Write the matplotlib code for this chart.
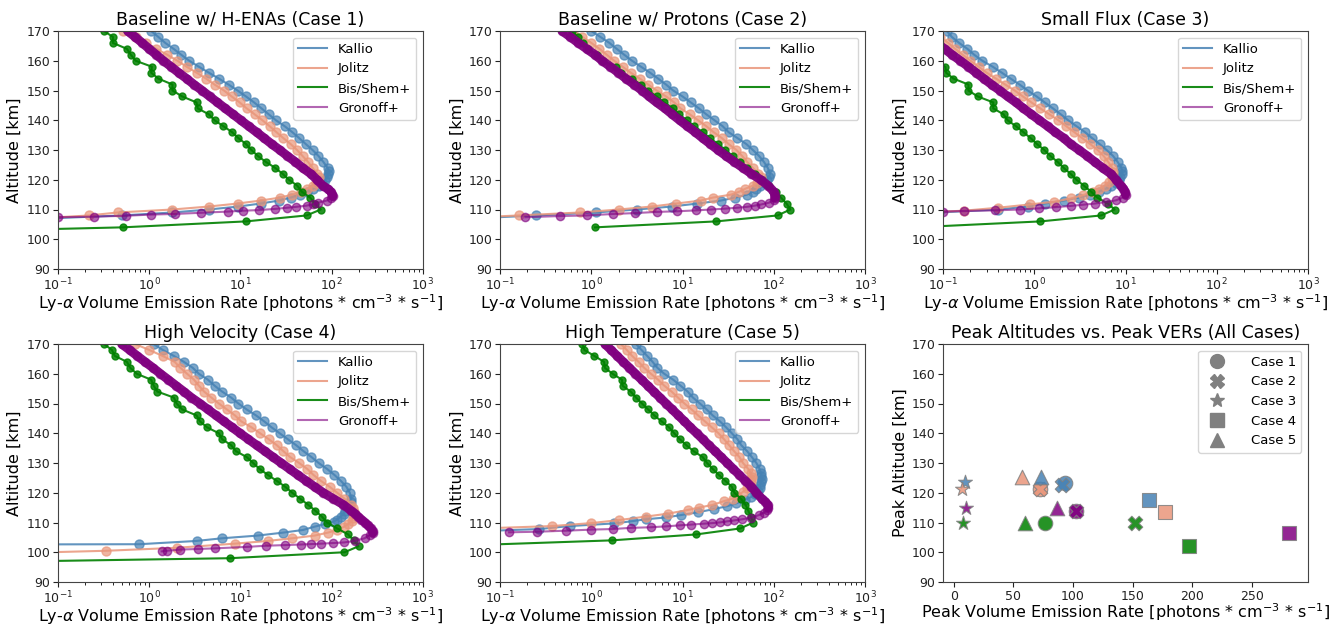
import numpy as np
import matplotlib
matplotlib.use("Agg")
import matplotlib.pyplot as plt
from matplotlib.lines import Line2D

# ---------------- data ----------------
titles = ["Baseline w/ H-ENAs (Case 1)", "Baseline w/ Protons (Case 2)", "Small Flux (Case 3)",
          "High Velocity (Case 4)", "High Temperature (Case 5)"]
models = ["Kallio", "Jolitz", "Bis/Shem+", "Gronoff+"]
model_colors = ["steelblue", "darksalmon", "green", "purple"]

bis_alt_grid = [96, 98, 100, 102, 104, 106, 108, 110, 112, 114, 116, 118, 120, 122, 124, 126, 128, 130,
                132, 134, 136, 138, 140, 142, 144, 146, 148, 150, 152, 154, 156, 158, 160, 162, 164,
                166, 168, 170]

# Case 1
k1_alt = [107, 108, 109, 110, 111, 112, 113, 114, 115, 116, 117, 118, 119, 120, 121, 122, 123, 124, 126, 128,
          130, 132, 134, 136, 138, 140, 142, 144, 146, 148, 150, 152, 154, 156, 158, 160, 162, 164, 166, 168, 170]
k1_ver = [0.08, 0.5, 1.8, 4.5, 9.5, 16.6, 26.3, 35.5, 45, 54, 63, 72, 79, 85, 89, 92, 93, 90, 81, 71.6,
          61.7, 52, 44, 37, 30.5, 24.5, 20.4, 17, 14.1, 11.5, 9.3, 7.4, 5.8, 4.5, 3.5, 2.75, 2.25, 1.85, 1.5, 1.26, 1.05]
j1_alt = [107, 108, 109, 110, 111, 112, 113, 114, 115, 116, 117, 118, 119, 120, 121, 122, 124, 126, 128, 130,
          132, 134, 136, 138, 140, 142, 144, 146, 148, 150, 152, 154, 156, 158, 160, 162, 164, 166, 168, 170]
j1_ver = [0.06, 0.22, 0.45, 1.8, 4.5, 9.3, 16.6, 27, 37, 46, 54, 62, 68, 71, 72, 69, 61.7, 55, 47.9, 41.7,
          35.5, 29.5, 24.8, 20.9, 17.4, 14.3, 11.7, 9.8, 8.0, 6.6, 5.2, 4.2, 3.3, 2.57, 2.04, 1.58, 1.2, 0.93,
          0.71, 0.52]
b1_alt = bis_alt_grid[3:]
b1_ver = [0.001, 0.51, 11.5, 53, 76, 66, 58, 47, 42, 34, 29, 24, 19, 15.5, 13.2, 11.5, 9.5, 8.1, 6.5, 5.2,
          4.5, 3.4, 3.3, 2.3, 1.8, 1.8, 1.26, 1.05, 1.07, 0.71, 0.63, 0.57, 0.40, 0.40, 0.32]
g1_alt = [107.4, 107.6, 107.9, 108.3, 108.5, 108.9, 109.3, 109.6, 109.8, 110.2, 110.6, 110.9, 111.3, 111.7,
          112.3, 113.0, 113.8, 114.5, 115, 116, 117, 118, 120, 122, 124, 126, 128, 130, 132, 134, 136, 138,
          140, 142, 144, 146, 148, 150, 152, 154, 156, 158, 160, 162, 164, 166, 168, 170]
g1_ver = [0.1, 0.25, 0.56, 1.06, 1.9, 3.7, 7.3, 10.7, 16, 24, 32.5, 41, 53, 62, 71, 88, 98, 102.7, 102, 98,
          90, 80, 69, 59, 48, 40, 32.7, 27, 22, 18.2, 15, 12.3, 10.1, 8.3, 6.8, 5.6, 4.6, 3.8, 3.1, 2.57, 2.1,
          1.74, 1.43, 1.2, 1.0, 0.84, 0.70, 0.58]

# Case 2
k2_alt = [107, 108, 109, 110, 111, 112, 113, 114, 115, 116, 117, 118, 119, 120, 121, 122, 124, 126, 128, 130,
          132, 134, 136, 138, 140, 142, 144, 146, 148, 150, 152, 154, 156, 158, 160, 162, 164, 166, 168, 170]
k2_ver = [0.05, 0.25, 1.12, 3.2, 7.6, 14.5, 26.3, 38, 51, 59, 64.5, 71, 78, 85, 89, 91, 86, 78, 69, 59,
          50, 40, 32, 27.5, 22.4, 18.2, 15.1, 12.3, 10, 7.9, 6.6, 5.4, 4.4, 3.5, 2.8, 2.3, 1.9, 1.58, 1.26, 1.0]
j2_alt = [107, 108, 109, 110, 111, 112, 113, 114, 115, 116, 117, 118, 119, 120, 121, 122, 124, 126, 128, 130,
          132, 134, 136, 138, 140, 142, 144, 146, 148, 150, 152, 154, 156, 158, 160, 162, 164, 166, 168, 170]
j2_ver = [0.03, 0.16, 0.76, 2.0, 4.6, 8.5, 15.8, 21.4, 34, 42, 49, 59, 66, 71, 72, 68, 59, 51, 45, 39,
          32, 27, 21.9, 18.2, 14.8, 12, 9.5, 8.1, 6.6, 5.2, 4.2, 3.4, 2.7, 2.2, 1.78, 1.48, 1.23, 1.0, 0.8, 0.63]
b2_alt = bis_alt_grid[4:]
b2_ver = [1.1, 23.4, 110, 152, 138, 120, 105, 89, 74, 62, 51, 43, 35.5, 29.5, 24.5, 20, 16.6, 13.5, 11.2,
          9.1, 7.9, 6.3, 5.2, 4.2, 3.5, 2.8, 2.1, 1.85, 1.35, 1.17, 0.93, 0.81, 0.71, 0.61]
g2_alt = [107.4, 107.8, 108.0, 108.5, 108.8, 109.2, 109.4, 109.7, 110.0, 110.3, 110.6, 110.9, 111.3, 111.7,
          112.3, 113.2, 114.0, 115, 116, 118, 120, 122, 124, 126, 128, 130, 132, 134, 136, 138, 140, 142,
          144, 146, 148, 150, 152, 154, 156, 158, 160, 162, 164, 166, 168, 170]
g2_ver = [0.19, 0.45, 0.89, 1.74, 3.05, 5.3, 8.8, 13.9, 20.7, 29.5, 40, 51, 62, 73, 89, 100, 102.7, 102, 100,
          87, 72, 57, 46, 37, 30, 24.5, 20.2, 16.6, 13.8, 11.3, 9.3, 7.7, 6.4, 5.2, 4.3, 3.6, 2.95, 2.4, 1.98,
          1.62, 1.32, 1.1, 0.89, 0.72, 0.59, 0.48]

# Case 3
k3_alt = [108, 109, 110, 111, 112, 113, 114, 115, 116, 117, 118, 119, 120, 121, 122, 123, 124, 126, 128, 130,
          132, 134, 136, 138, 140, 142, 144, 146, 148, 150, 152, 154, 156, 158, 160, 162, 164, 166, 168, 170]
k3_ver = [0.02, 0.09, 0.4, 0.85, 1.3, 2.1, 3.1, 4.1, 5.1, 6.1, 7.0, 7.8, 8.4, 8.8, 9.1, 9.2, 9.0, 8.2, 7.3, 6.2,
          5.2, 4.3, 3.6, 2.9, 2.35, 1.95, 1.6, 1.3, 1.06, 0.85, 0.69, 0.55, 0.44, 0.35, 0.27, 0.22, 0.185,
          0.15, 0.125, 0.11]
j3_alt = [108, 108.8, 109.6, 110.6, 111.7, 112.6, 113.7, 114.8, 116, 117, 118, 119.3, 120.5, 121.4, 122.5, 124,
          126, 128, 130, 132, 134, 136, 138, 140, 142, 144, 146, 148, 150, 152, 154, 156, 158, 160, 162, 164,
          166, 168, 170]
j3_ver = [0.01, 0.04, 0.17, 0.40, 0.89, 1.66, 2.5, 3.4, 4.4, 5.1, 5.9, 6.6, 7.1, 7.3, 7.2, 7.15, 6.45, 5.75,
          4.95, 4.1, 3.35, 2.75, 2.24, 1.84, 1.46, 1.16, 0.93, 0.75, 0.61, 0.48, 0.38, 0.30, 0.245, 0.20,
          0.164, 0.136, 0.114, 0.093, 0.075]
b3_alt = bis_alt_grid[4:]
b3_ver = [0.05, 1.17, 5.4, 7.6, 6.4, 4.9, 4.2, 3.5, 2.9, 2.5, 2.1, 1.8, 1.5, 1.29, 1.07, 0.91, 0.76, 0.63,
          0.51, 0.46, 0.355, 0.355, 0.24, 0.19, 0.19, 0.13, 0.108, 0.106, 0.074, 0.063, 0.057, 0.04, 0.04, 0.032]
g3_alt = [109.3, 109.5, 109.7, 110.0, 110.4, 110.8, 111.2, 111.6, 112.0, 112.5, 113.1, 114.0, 115.0, 116, 117,
          118, 120, 122, 124, 126, 128, 130, 132, 134, 136, 138, 140, 142, 144, 146, 148, 150, 152, 154, 156,
          158, 160, 162, 164, 166, 168, 170]
g3_ver = [0.1, 0.17, 0.37, 0.69, 1.14, 1.74, 2.5, 3.4, 4.6, 6.1, 7.9, 9.3, 10, 9.9, 9.5, 8.9, 7.9, 6.9, 5.6,
          4.6, 3.8, 3.1, 2.5, 2.1, 1.7, 1.4, 1.14, 0.93, 0.76, 0.63, 0.51, 0.42, 0.34, 0.28, 0.23, 0.19, 0.155,
          0.126, 0.104, 0.085, 0.07, 0.057]

# Case 4
k4_alt = [102.5, 102.7, 103.8, 104.7, 105.6, 106.6, 107.5, 108.6, 109.5, 110.3, 111, 112, 113, 114, 115, 116,
          117, 118, 120, 122, 124, 126, 128, 130, 132, 134, 136, 138, 140, 142, 144, 146, 148, 150, 152, 154,
          156, 158, 160, 162, 164, 166, 168, 170]
k4_ver = [0.0001, 0.78, 3.3, 6.3, 15.4, 29.4, 48.6, 65, 85, 105, 115, 126, 135, 141, 148, 155, 162, 164, 158,
          145, 126, 107, 89, 72, 60, 49, 40.7, 33, 26.9, 21.9, 18.2, 14.8, 11.7, 9.5, 7.9, 6.3, 5.2, 4.4, 3.5,
          3.0, 2.4, 1.86, 1.41, 1.12]
j4_alt = [99.5, 100.5, 101.5, 102.9, 103.8, 104.7, 105.6, 106.6, 107.5, 108.5, 109.5, 110.5, 111.5, 112.5,
          113.6, 115, 116, 118, 120, 122, 124, 126, 128, 130, 132, 134, 136, 138, 140, 142, 144, 146, 148, 150,
          152, 154, 156, 158, 160, 162, 164, 166, 168, 170]
j4_ver = [0.02, 0.34, 2.0, 8.8, 20, 37, 65, 91, 115, 135, 152, 165, 172, 176, 177, 172, 162, 138, 115, 95, 76,
          63, 54, 44, 35, 29.5, 25, 20.4, 16.4, 13.2, 10.2, 8.7, 7.1, 5.8, 4.8, 4.0, 3.5, 3.1, 2.6, 2.2, 1.9,
          1.4, 1.0, 0.7]
b4_alt = bis_alt_grid
b4_ver = [0.0005, 7.7, 138, 197, 174, 151, 115, 89, 78, 66, 55, 45, 37, 31, 25, 20, 16.2, 13.8, 11.7, 8.9,
          7.9, 6.3, 5.8, 4.3, 3.6, 3.3, 2.3, 2.0, 1.86, 1.23, 1.12, 1.05, 0.73, 0.62, 0.57, 0.42, 0.39, 0.32]
g4_alt = [100.3, 100.5, 100.9, 101.1, 101.3, 101.8, 102.2, 102.4, 102.6, 102.75, 102.9, 103.1, 103.3, 103.8,
          104.7, 105.8, 106.5, 107.2, 108, 109, 110, 111, 112, 113, 114, 116, 118, 120, 122, 124, 126, 128,
          130, 132, 134, 136, 138, 140, 142, 144, 146, 148, 150, 152, 154, 156, 158, 160, 162, 164, 166, 168, 170]
g4_ver = [1.37, 1.55, 2.2, 3.4, 5.2, 11.7, 19.3, 30.6, 45.6, 60, 77, 104, 137, 178, 229, 262, 281, 281, 268,
          250, 232, 212, 195, 180, 163, 134, 104, 81, 65, 52.5, 42.5, 34.5, 28, 22.7, 18.5, 15, 12.2, 9.9, 8.1,
          6.6, 5.4, 4.4, 3.6, 2.9, 2.4, 1.97, 1.62, 1.33, 1.1, 0.9, 0.74, 0.61, 0.5]

# Case 5
k5_alt = [107, 107.8, 108.8, 109.7, 110.5, 111.1, 111.7, 112.5, 113.4, 114.5, 115.5, 116.4, 117.5, 118.5, 119.5,
          120.5, 121.5, 122.5, 123.5, 124.5, 125.5, 126.5, 128, 130, 132, 134, 136, 138, 140, 142, 144, 146,
          148, 150, 152, 154, 156, 158, 160, 162, 164, 166, 168, 170]
k5_ver = [0.05, 0.27, 0.58, 1.79, 2.9, 4.0, 6.6, 9.6, 14.6, 22, 31, 38.5, 48, 56, 63, 68, 70, 71, 72.5, 73.5,
          73, 72.5, 70, 64.5, 57.5, 51, 44, 40, 34.7, 30, 25.7, 21.4, 18.4, 15.5, 13, 11.4, 9.5, 7.9, 6.3, 5.3,
          4.7, 4.1, 3.55, 3.1]
j5_alt = [107.8, 108.8, 109.8, 110.8, 112, 113, 114.2, 115, 115.9, 117.2, 118, 119, 120.3, 121.5, 122.5, 123.5,
          124.5, 125.3, 126.5, 128, 130, 132, 134, 136, 138, 140, 142, 144, 146, 148, 150, 152, 154, 156, 158,
          160, 162, 164, 166, 168, 170]
j5_ver = [0.04, 0.37, 1.0, 2.0, 4.0, 7, 11.4, 15, 21.3, 28.6, 35.5, 40, 46, 51, 54, 56, 57, 57.2, 56, 52.5, 46,
          42, 36.7, 32.4, 28.5, 24.8, 20.9, 17.6, 14.8, 12.6, 10.5, 8.9, 7.6, 6.3, 5.4, 4.5, 3.8, 3.3, 2.8,
          2.45, 2.1]
b5_alt = bis_alt_grid[3:]
b5_ver = [0.022, 1.69, 14.2, 42.9, 59.7, 56, 52.5, 49, 43.6, 37, 34.7, 29.5, 25, 21.4, 18.6, 16.6, 13.2, 11,
          9.3, 8.1, 7.1, 5.9, 4.9, 4.2, 3.6, 3.1, 2.7, 2.2, 2.17, 1.71, 1.41, 1.38, 1.08, 0.84, 0.8]
g5_alt = [106.7, 106.9, 107.25, 107.6, 107.8, 108.2, 108.4, 108.7, 109.05, 109.3, 109.6, 109.8, 110.05, 110.4,
          110.7, 111.1, 111.6, 112.5, 113.3, 114.2, 115, 116, 117, 118, 120, 122, 124, 126, 128, 130, 132, 134,
          136, 138, 140, 142, 144, 146, 148, 150, 152, 154, 156, 158, 160, 162, 164, 166, 168, 170]
g5_ver = [0.126, 0.254, 0.53, 0.99, 1.71, 2.72, 4.5, 6.6, 9.4, 12.4, 17, 21.3, 25.9, 31, 36.8, 45.4, 56, 69,
          78, 85, 87, 86, 81, 74, 64.5, 57, 49, 42, 36, 30.9, 26.5, 22.7, 19.4, 16.7, 14.3, 12.2, 10.5, 9.0,
          7.7, 6.6, 5.66, 4.85, 4.16, 3.56, 3.05, 2.62, 2.24, 1.92, 1.65, 1.41]

profiles = [
    [(k1_alt, k1_ver), (j1_alt, j1_ver), (b1_alt, b1_ver), (g1_alt, g1_ver)],
    [(k2_alt, k2_ver), (j2_alt, j2_ver), (b2_alt, b2_ver), (g2_alt, g2_ver)],
    [(k3_alt, k3_ver), (j3_alt, j3_ver), (b3_alt, b3_ver), (g3_alt, g3_ver)],
    [(k4_alt, k4_ver), (j4_alt, j4_ver), (b4_alt, b4_ver), (g4_alt, g4_ver)],
    [(k5_alt, k5_ver), (j5_alt, j5_ver), (b5_alt, b5_ver), (g5_alt, g5_ver)],
]

# Peak values (Kallio, Jolitz, Bis/Shem+, Gronoff+) for each case
case_labels = ["Case 1", "Case 2", "Case 3", "Case 4", "Case 5"]
case_markers = ["o", "X", "*", "s", "^"]
peak_ver_c1 = [92.9, 72, 76.2, 102.7]
peak_alt_c1 = [123.4, 121.4, 110, 114]
peak_ver_c2 = [91, 72, 152, 102.7]
peak_alt_c2 = [122.5, 121.4, 110, 114]
peak_ver_c3 = [9.2, 7.3, 7.8, 10]
peak_alt_c3 = [123.7, 121.4, 110, 115]
peak_ver_c4 = [164, 177, 197.5, 281]
peak_alt_c4 = [117.5, 113.6, 102, 106.5]
peak_ver_c5 = [72.8, 57.2, 59.7, 86.8]
peak_alt_c5 = [125.3, 125.3, 110, 114.9]
peaks = [(peak_ver_c1, peak_alt_c1), (peak_ver_c2, peak_alt_c2), (peak_ver_c3, peak_alt_c3),
         (peak_ver_c4, peak_alt_c4), (peak_ver_c5, peak_alt_c5)]

# ---------------- plot ----------------
plt.rcParams['font.family'] = 'DejaVu Sans'
fig = plt.figure(figsize=(13.38, 6.25), dpi=100)

W, H = 0.2728, 0.3808
lefts = [0.0433, 0.3737, 0.7048]
bottoms = [0.5696, 0.0688]

xlab = r'Ly-$\alpha$ Volume Emission Rate [photons * cm$^{-3}$ * s$^{-1}$]'
TITLE_FS = 12.5
LABEL_FS = 11.5
TICK_FS = 9
LEG_FS = 9.5

line_alpha = [0.85, 0.85, 0.9, 0.6]
mark_alpha = [0.7, 0.7, 0.85, 0.6]
mark_size = [6.5, 6.5, 5, 6]

def style_axes(ax):
    for s in ax.spines.values():
        s.set_color('#444444')
    ax.tick_params(labelsize=TICK_FS, colors='#222222', pad=2)

axes = []
for i in range(6):
    r, c = divmod(i, 3)
    ax = fig.add_axes([lefts[c], bottoms[r], W, H])
    axes.append(ax)

for i in range(5):
    ax = axes[i]
    for m in range(4):
        alt, ver = profiles[i][m]
        col = model_colors[m]
        ax.plot(ver, alt, '-', color=col, lw=1.5, alpha=line_alpha[m], label=models[m])
        if m == 3:
            alt_a = np.array(alt)
            ver_a = np.array(ver)
            pk = alt_a[np.argmax(ver_a)]
            sel = alt_a >= pk - 0.6
            ax.plot(ver_a[sel], alt_a[sel], '-', color=col, lw=6.5, alpha=0.95,
                    solid_capstyle='round', solid_joinstyle='round')
        ax.plot(ver, alt, 'o', color=col, ms=mark_size[m], alpha=mark_alpha[m], ls='none')
    ax.set_xscale('log')
    ax.set_xlim(1e-1, 1e3)
    ax.set_ylim(90, 170)
    ax.set_yticks(np.arange(90, 171, 10))
    ax.set_title(titles[i], fontsize=TITLE_FS, pad=4)
    ax.set_xlabel(xlab, fontsize=LABEL_FS, labelpad=-1)
    ax.set_ylabel('Altitude [km]', fontsize=LABEL_FS, labelpad=3)
    ax.legend(loc='upper right', fontsize=LEG_FS, handlelength=2.2)
    style_axes(ax)

# scatter panel
ax = axes[5]
for ci in range(5):
    pv, pa = peaks[ci]
    for m in range(4):
        ax.scatter(pv[m], pa[m], marker=case_markers[ci], s=110, color=model_colors[m],
                   edgecolors='grey', linewidths=0.8, alpha=0.85, zorder=3)
ax.set_xlim(-9, 297)
ax.set_ylim(90, 170)
ax.set_yticks(np.arange(90, 171, 10))
ax.set_xticks([0, 50, 100, 150, 200, 250])
ax.set_title('Peak Altitudes vs. Peak VERs (All Cases)', fontsize=TITLE_FS, pad=4)
ax.set_xlabel(r'Peak Volume Emission Rate [photons * cm$^{-3}$ * s$^{-1}$]', fontsize=LABEL_FS, labelpad=-1)
ax.set_ylabel('Peak Altitude [km]', fontsize=LABEL_FS, labelpad=3)
handles = [Line2D([], [], ls='none', marker=mk, color='grey', markersize=10, label=lb)
           for mk, lb in zip(case_markers, case_labels)]
ax.legend(handles=handles, loc='upper right', fontsize=LEG_FS, handletextpad=1.6)
style_axes(ax)

fig.savefig('out.png', dpi=100)
